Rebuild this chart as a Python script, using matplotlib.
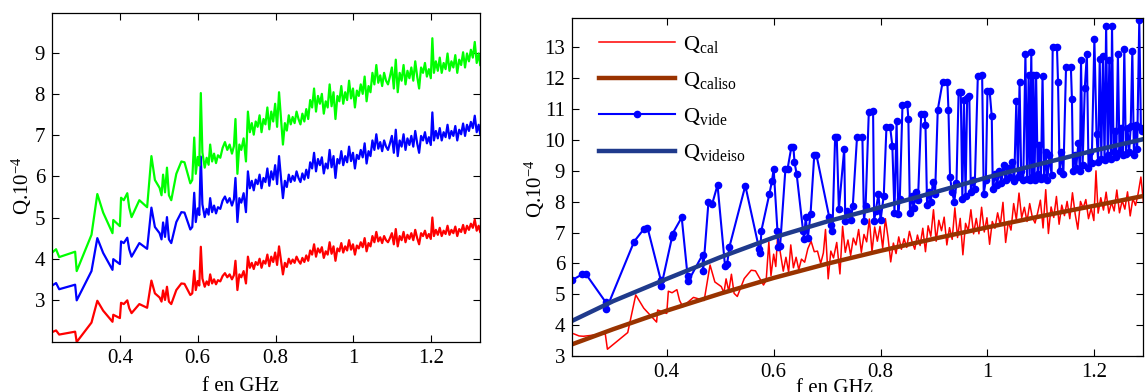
import numpy as np
import matplotlib
matplotlib.use('Agg')
import matplotlib.pyplot as plt

plt.rcParams['font.family'] = ['Liberation Serif', 'DejaVu Serif']
plt.rcParams['mathtext.fontset'] = 'custom'
plt.rcParams['mathtext.rm'] = 'Liberation Serif'
plt.rcParams['mathtext.it'] = 'Liberation Serif:italic'

# Frequency grid (GHz) shared by the measured Q curves
freq = [
    0.226, 0.236, 0.244, 0.285, 0.289, 0.327, 0.342, 0.357, 0.381, 0.383,
    0.400, 0.403, 0.410, 0.419, 0.424, 0.430, 0.450, 0.470, 0.481, 0.490,
    0.502, 0.507, 0.511, 0.516, 0.521, 0.526, 0.532, 0.545, 0.558, 0.566,
    0.581, 0.586, 0.591, 0.595, 0.600, 0.604, 0.608, 0.612, 0.618, 0.623,
    0.628, 0.632, 0.637, 0.642, 0.647, 0.652, 0.658, 0.664, 0.670, 0.676,
    0.682, 0.688, 0.693, 0.697, 0.702, 0.707, 0.712, 0.718, 0.724, 0.729,
    0.734, 0.739, 0.744, 0.749, 0.754, 0.759, 0.764, 0.769, 0.774, 0.779,
    0.784, 0.789, 0.794, 0.799, 0.804, 0.809, 0.814, 0.819, 0.824, 0.829,
    0.834, 0.839, 0.844, 0.849, 0.854, 0.859, 0.864, 0.869, 0.874, 0.879,
    0.884, 0.889, 0.894, 0.899, 0.904, 0.909, 0.914, 0.919, 0.924, 0.929,
    0.934, 0.939, 0.944, 0.949, 0.954, 0.959, 0.964, 0.969, 0.974, 0.979,
    0.984, 0.989, 0.994, 0.999, 1.004, 1.009, 1.014, 1.019, 1.024, 1.029,
    1.034, 1.039, 1.044, 1.049, 1.054, 1.059, 1.064, 1.069, 1.074, 1.079,
    1.084, 1.089, 1.094, 1.099, 1.104, 1.109, 1.114, 1.119, 1.124, 1.129,
    1.134, 1.139, 1.144, 1.149, 1.154, 1.159, 1.164, 1.169, 1.174, 1.179,
    1.184, 1.189, 1.194, 1.199, 1.203, 1.207, 1.212, 1.217, 1.222, 1.227,
    1.232, 1.237, 1.242, 1.247, 1.252, 1.257, 1.262, 1.267, 1.272, 1.277,
    1.282, 1.287, 1.292, 1.297, 1.302, 1.307, 1.312, 1.317, 1.322, 1.326,
]

# Left panel: three measured curves (Q x 1e4)
q_red = [
    2.22, 2.26, 2.16, 2.23, 1.98, 2.45, 2.98, 2.74, 2.47, 2.64,
    2.56, 2.93, 2.90, 2.99, 2.80, 2.68, 2.90, 2.81, 3.47, 3.16,
    3.06, 2.96, 3.23, 3.00, 3.32, 2.96, 2.90, 3.24, 3.40, 3.39,
    3.12, 3.16, 3.71, 3.24, 3.46, 3.35, 4.29, 3.52, 3.32, 3.45,
    3.36, 3.62, 3.40, 3.50, 3.38, 3.48, 3.45, 3.58, 3.65, 3.55,
    3.62, 3.50, 3.60, 3.95, 3.24, 3.62, 3.55, 3.70, 3.40, 4.05,
    3.78, 3.90, 3.75, 3.92, 3.85, 4.00, 3.78, 3.95, 3.88, 4.10,
    3.82, 4.05, 3.92, 4.15, 3.85, 4.30, 3.95, 3.62, 3.90, 3.80,
    4.00, 3.88, 3.98, 3.90, 4.05, 3.95, 3.88, 4.02, 3.92, 4.08,
    3.95, 4.20, 4.10, 4.35, 4.05, 4.25, 4.15, 4.28, 4.02, 4.18,
    4.10, 4.40, 4.12, 4.30, 3.95, 4.25, 4.18, 4.38, 4.15, 4.30,
    4.20, 4.45, 4.22, 4.35, 4.10, 4.32, 4.25, 4.40, 4.28, 4.50,
    4.18, 4.38, 4.30, 4.55, 4.40, 4.65, 4.42, 4.52, 4.38, 4.55,
    4.45, 4.40, 4.50, 4.62, 4.35, 4.72, 4.30, 4.55, 4.45, 4.65,
    4.40, 4.58, 4.48, 4.62, 4.45, 4.70, 4.50, 4.35, 4.62, 4.55,
    4.68, 4.50, 4.60, 4.48, 5.00, 4.55, 4.70, 4.58, 4.75, 4.55,
    4.68, 4.60, 4.80, 4.58, 4.70, 4.62, 4.78, 4.55, 4.72, 4.65,
    4.82, 4.62, 4.80, 4.70, 4.85, 4.75, 4.95, 4.68, 4.80, 4.65,
]
q_blue = [
    3.35, 3.41, 3.26, 3.37, 2.99, 3.70, 4.50, 4.14, 3.73, 3.99,
    3.87, 4.42, 4.38, 4.51, 4.23, 4.05, 4.38, 4.24, 5.24, 4.77,
    4.62, 4.47, 4.88, 4.53, 5.01, 4.47, 4.38, 4.89, 5.13, 5.12,
    4.71, 4.77, 5.60, 4.89, 5.22, 5.06, 6.48, 5.32, 5.01, 5.21,
    5.07, 5.47, 5.13, 5.29, 5.10, 5.25, 5.21, 5.41, 5.51, 5.36,
    5.47, 5.29, 5.44, 5.96, 4.89, 5.47, 5.36, 5.59, 5.13, 6.12,
    5.71, 5.89, 5.66, 5.92, 5.81, 6.04, 5.71, 5.96, 5.86, 6.19,
    5.77, 6.12, 5.92, 6.27, 5.81, 6.49, 5.96, 5.47, 5.89, 5.74,
    6.04, 5.86, 6.01, 5.89, 6.12, 5.96, 5.86, 6.07, 5.92, 6.16,
    5.96, 6.34, 6.19, 6.57, 6.12, 6.42, 6.27, 6.46, 6.07, 6.31,
    6.19, 6.64, 6.22, 6.49, 5.96, 6.42, 6.31, 6.61, 6.27, 6.49,
    6.34, 6.72, 6.37, 6.57, 6.19, 6.52, 6.42, 6.64, 6.46, 6.80,
    6.31, 6.61, 6.49, 6.87, 6.64, 7.02, 6.67, 6.83, 6.61, 6.87,
    6.72, 6.64, 6.80, 6.98, 6.57, 7.13, 6.49, 6.87, 6.72, 7.02,
    6.64, 6.92, 6.76, 6.98, 6.72, 7.10, 6.80, 6.57, 6.98, 6.87,
    7.07, 6.80, 6.95, 6.76, 7.55, 6.87, 7.10, 6.92, 7.17, 6.87,
    7.07, 6.95, 7.25, 6.92, 7.10, 6.98, 7.22, 6.87, 7.13, 7.02,
    7.28, 6.98, 7.25, 7.10, 7.32, 7.17, 7.47, 7.07, 7.25, 7.02,
]
q_green = [
    4.15, 4.23, 4.04, 4.17, 3.70, 4.58, 5.57, 5.12, 4.62, 4.94,
    4.79, 5.48, 5.42, 5.59, 5.24, 5.01, 5.42, 5.25, 6.49, 5.91,
    5.72, 5.54, 6.04, 5.61, 6.21, 5.54, 5.42, 6.06, 6.36, 6.34,
    5.83, 5.91, 6.94, 6.06, 6.47, 6.26, 8.02, 6.58, 6.21, 6.45,
    6.28, 6.77, 6.36, 6.55, 6.32, 6.51, 6.45, 6.69, 6.83, 6.64,
    6.77, 6.55, 6.73, 7.39, 6.06, 6.77, 6.64, 6.92, 6.36, 7.57,
    7.07, 7.29, 7.01, 7.33, 7.20, 7.48, 7.07, 7.39, 7.26, 7.67,
    7.14, 7.57, 7.33, 7.76, 7.20, 8.04, 7.39, 6.77, 7.29, 7.11,
    7.48, 7.26, 7.44, 7.29, 7.57, 7.39, 7.26, 7.52, 7.33, 7.63,
    7.39, 7.85, 7.67, 8.13, 7.57, 7.95, 7.76, 8.00, 7.52, 7.82,
    7.67, 8.23, 7.70, 8.04, 7.39, 7.95, 7.82, 8.19, 7.76, 8.04,
    7.85, 8.32, 7.89, 8.13, 7.67, 8.08, 7.95, 8.23, 8.00, 8.42,
    7.82, 8.19, 8.04, 8.51, 8.23, 8.70, 8.27, 8.45, 8.19, 8.51,
    8.32, 8.23, 8.42, 8.64, 8.13, 8.83, 8.04, 8.51, 8.32, 8.70,
    8.23, 8.56, 8.38, 8.64, 8.32, 8.79, 8.42, 8.13, 8.64, 8.51,
    8.75, 8.42, 8.60, 8.38, 9.35, 8.51, 8.79, 8.56, 8.88, 8.51,
    8.75, 8.60, 8.98, 8.56, 8.79, 8.64, 8.94, 8.51, 8.83, 8.70,
    9.01, 8.64, 8.98, 8.79, 9.07, 8.88, 9.26, 8.75, 8.98, 8.70,
]

# Right panel: Q_cal (measured, same grid)
q_cal = [
    3.72, 3.65, 3.64, 3.72, 3.22, 3.76, 4.98, 4.55, 4.10, 4.49,
    4.38, 5.10, 5.05, 5.15, 4.80, 4.60, 4.90, 4.80, 5.95, 5.40,
    5.25, 5.05, 5.50, 5.10, 5.65, 5.03, 4.93, 5.51, 5.78, 5.76,
    5.30, 5.45, 6.70, 5.60, 6.30, 5.90, 7.05, 6.40, 5.75, 6.20,
    5.72, 6.60, 5.86, 6.20, 5.80, 6.14, 6.04, 6.48, 6.72, 6.38,
    6.40, 6.00, 6.34, 7.10, 5.50, 6.40, 6.18, 6.68, 5.66, 7.20,
    6.36, 6.76, 6.26, 6.82, 6.60, 7.10, 6.36, 6.94, 6.70, 7.44,
    6.38, 7.18, 6.72, 7.20, 6.50, 7.45, 6.84, 6.05, 6.66, 6.32,
    6.86, 6.46, 6.80, 6.52, 7.04, 6.70, 6.46, 6.92, 6.58, 7.14,
    6.38, 7.22, 6.88, 7.74, 6.72, 7.40, 7.06, 7.50, 6.60, 7.16,
    6.78, 7.80, 6.84, 7.46, 6.28, 7.30, 7.06, 7.74, 6.96, 7.46,
    6.96, 7.82, 7.02, 7.48, 6.62, 7.36, 7.14, 7.64, 7.24, 7.98,
    6.68, 7.36, 7.08, 7.94, 7.42, 8.28, 7.48, 7.82, 7.36, 7.94,
    7.49, 7.31, 7.65, 8.05, 7.15, 8.39, 6.97, 7.83, 7.49, 8.17,
    7.27, 7.89, 7.55, 8.01, 7.45, 8.29, 7.61, 7.11, 8.01, 7.79,
    8.07, 7.45, 7.79, 7.39, 9.00, 7.63, 8.13, 7.73, 8.31, 7.63,
    7.98, 7.70, 8.38, 7.64, 8.04, 7.76, 8.32, 7.54, 8.10, 7.88,
    8.28, 8.80, 7.95, 7.88, 8.40, 8.06, 8.74, 7.82, 8.22, 7.72,
]

# Smooth (iso) curves
freq_iso = [0.223, 0.30, 0.40, 0.50, 0.60, 0.70, 0.80, 0.90, 1.00, 1.10, 1.20, 1.29]
q_caliso = [3.38, 3.87, 4.47, 5.02, 5.53, 5.99, 6.41, 6.80, 7.17, 7.53, 7.87, 8.18]
q_videiso = [4.14, 4.78, 5.50, 6.20, 6.84, 7.36, 7.82, 8.30, 8.79, 9.23, 9.66, 10.02]

# Q_vide (measured, with markers)
freq_vide = [
    0.223, 0.242, 0.249, 0.286, 0.287, 0.339, 0.357, 0.364, 0.389, 0.390,
    0.410, 0.411, 0.428, 0.439, 0.440, 0.467, 0.468, 0.478, 0.485, 0.495,
    0.509, 0.513, 0.517, 0.547, 0.573, 0.575, 0.577, 0.592, 0.597, 0.600,
    0.607, 0.609, 0.612, 0.622, 0.626, 0.633, 0.637, 0.639, 0.643, 0.655,
    0.657, 0.660, 0.664, 0.669, 0.676, 0.680, 0.704, 0.708, 0.710, 0.715,
    0.718, 0.722, 0.732, 0.734, 0.738, 0.744, 0.748, 0.756, 0.766, 0.769,
    0.772, 0.778, 0.786, 0.788, 0.791, 0.796, 0.800, 0.806, 0.811, 0.818,
    0.822, 0.826, 0.830, 0.833, 0.836, 0.841, 0.850, 0.852, 0.855, 0.858,
    0.862, 0.866, 0.870, 0.876, 0.882, 0.884, 0.887, 0.890, 0.894, 0.898,
    0.902, 0.907, 0.916, 0.925, 0.927, 0.930, 0.934, 0.938, 0.942, 0.946,
    0.950, 0.953, 0.956, 0.959, 0.962, 0.966, 0.969, 0.972, 0.976, 0.982,
    0.990, 0.993, 0.997, 1.000, 1.004, 1.008, 1.010, 1.014, 1.018, 1.022,
    1.026, 1.030, 1.034, 1.038, 1.042, 1.046, 1.050, 1.054, 1.057, 1.060,
    1.063, 1.067, 1.071, 1.074, 1.077, 1.079, 1.082, 1.084, 1.086, 1.088,
    1.091, 1.094, 1.097, 1.100, 1.103, 1.106, 1.109, 1.112, 1.116, 1.120,
    1.122, 1.130, 1.132, 1.135, 1.138, 1.142, 1.147, 1.156, 1.158, 1.160,
    1.163, 1.166, 1.170, 1.173, 1.175, 1.178, 1.182, 1.186, 1.189, 1.192,
    1.195, 1.200, 1.204, 1.207, 1.210, 1.213, 1.216, 1.219, 1.222, 1.225,
    1.228, 1.231, 1.233, 1.236, 1.239, 1.241, 1.244, 1.247, 1.250, 1.253,
    1.256, 1.259, 1.262, 1.265, 1.268, 1.271, 1.274, 1.277, 1.280, 1.284,
    1.287, 1.290,
]
q_vide = [
    5.46, 5.65, 5.65, 4.74, 4.52, 6.71, 7.11, 7.16, 5.45, 5.28,
    6.86, 6.97, 7.49, 5.60, 5.42, 6.28, 5.74, 7.98, 7.93, 8.54,
    5.92, 5.98, 6.52, 8.52, 6.46, 6.35, 7.06, 8.25, 8.68, 9.07,
    7.06, 6.52, 6.55, 9.06, 9.06, 9.76, 9.76, 9.28, 8.90, 7.06,
    6.79, 7.49, 6.82, 7.60, 9.52, 9.52, 7.50, 7.25, 7.06, 10.10,
    10.10, 7.75, 9.71, 7.38, 7.70, 7.40, 7.85, 10.10, 10.10, 7.38,
    7.85, 10.90, 10.95, 7.38, 7.70, 8.25, 7.40, 8.20, 10.41, 10.41,
    9.82, 7.65, 10.63, 7.60, 8.10, 11.12, 11.17, 10.69, 7.62, 8.20,
    7.80, 8.30, 8.05, 10.85, 10.85, 10.50, 7.90, 8.30, 8.00, 8.65,
    8.25, 10.98, 11.87, 11.87, 10.98, 8.79, 8.30, 8.00, 8.60, 11.55,
    11.55, 8.10, 11.30, 8.20, 11.35, 11.43, 8.30, 8.70, 8.40, 12.09,
    12.12, 8.26, 8.70, 11.60, 11.60, 10.77, 8.40, 8.90, 8.55, 9.00,
    8.60, 9.20, 8.70, 9.10, 8.80, 9.30, 8.68, 11.28, 8.80, 11.87,
    9.00, 8.70, 12.80, 8.75, 12.10, 8.70, 12.85, 8.80, 12.10, 8.70,
    12.10, 8.90, 9.85, 8.75, 12.09, 8.80, 9.60, 8.70, 9.50, 8.85,
    13.00, 13.00, 11.87, 9.00, 9.60, 8.90, 12.38, 12.38, 11.33, 9.00,
    9.50, 9.10, 9.90, 9.00, 12.60, 9.20, 11.67, 12.80, 9.10, 9.60,
    9.25, 13.28, 10.20, 9.30, 12.63, 9.40, 12.73, 9.35, 13.71, 9.50,
    12.60, 9.40, 13.71, 9.60, 10.30, 9.45, 12.80, 9.60, 10.40, 9.50,
    12.96, 9.55, 10.40, 9.60, 10.45, 12.90, 9.50, 10.50, 9.70, 13.90,
    10.40, 10.30,
]

xtick_vals = [0.4, 0.6, 0.8, 1.0, 1.2]
xtick_labels = ['0.4', '0.6', '0.8', '1', '1.2']
left_yticks = [3, 4, 5, 6, 7, 8, 9]
right_yticks = [3, 4, 5, 6, 7, 8, 9, 10, 11, 12, 13]


def style_axes(ax, xlim, ylim, yticks):
    ax.set_xlim(xlim)
    ax.set_ylim(ylim)
    ax.set_xticks(xtick_vals, labels=xtick_labels)
    ax.set_yticks(yticks, labels=[str(v) for v in yticks])
    ax.tick_params(direction='in', top=True, right=True, length=5,
                   width=0.8, labelsize=15, pad=5)
    for sp in ax.spines.values():
        sp.set_linewidth(0.9)


def main():
    fig = plt.figure(figsize=(11.46, 3.92), dpi=100)

    # left panel
    ax1 = fig.add_axes([0.0454, 0.1276, 0.3735, 0.839])
    ax1.plot(freq, q_red, color='#ff0000', lw=1.6)
    ax1.plot(freq, q_blue, color='#0000ff', lw=1.6)
    ax1.plot(freq, q_green, color='#00ff00', lw=1.6)
    style_axes(ax1, (0.2256, 1.3256), (1.98, 9.96), left_yticks)
    ax1.set_xlabel('f en GHz', fontsize=15)
    ax1.xaxis.set_label_coords(0.44, -0.105)
    ax1.set_ylabel(r'Q.10$^{-4}$', fontsize=15)
    ax1.yaxis.set_label_coords(-0.043, 0.474)

    # right panel
    ax2 = fig.add_axes([0.4991, 0.0918, 0.4983, 0.862])
    ax2.plot(freq, q_cal, color='#ff0000', lw=1.1, label=r'Q$_{\mathrm{cal}}$')
    ax2.plot(freq_iso, q_caliso, color='#993300', lw=3.2, label=r'Q$_{\mathrm{caliso}}$')
    ax2.plot(freq_vide, q_vide, color='#0000ff', lw=1.5, marker='o', ms=4.5,
             label=r'Q$_{\mathrm{vide}}$')
    ax2.plot(freq_iso, q_videiso, color='#1f3a8c', lw=3.2, label=r'Q$_{\mathrm{videiso}}$')
    style_axes(ax2, (0.2227, 1.291), (3.0, 13.95), right_yticks)
    ax2.set_xlabel('f en GHz', fontsize=15)
    ax2.xaxis.set_label_coords(0.459, -0.068)
    ax2.set_ylabel(r'Q.10$^{-4}$', fontsize=15)
    ax2.yaxis.set_label_coords(-0.044, 0.494)
    ax2.legend(loc='upper left', bbox_to_anchor=(0.013, 1.012), frameon=False,
               fontsize=16, handlelength=3.4, labelspacing=0.68, handletextpad=0.35)

    fig.savefig('out.png', dpi=100)


if __name__ == '__main__':
    main()
